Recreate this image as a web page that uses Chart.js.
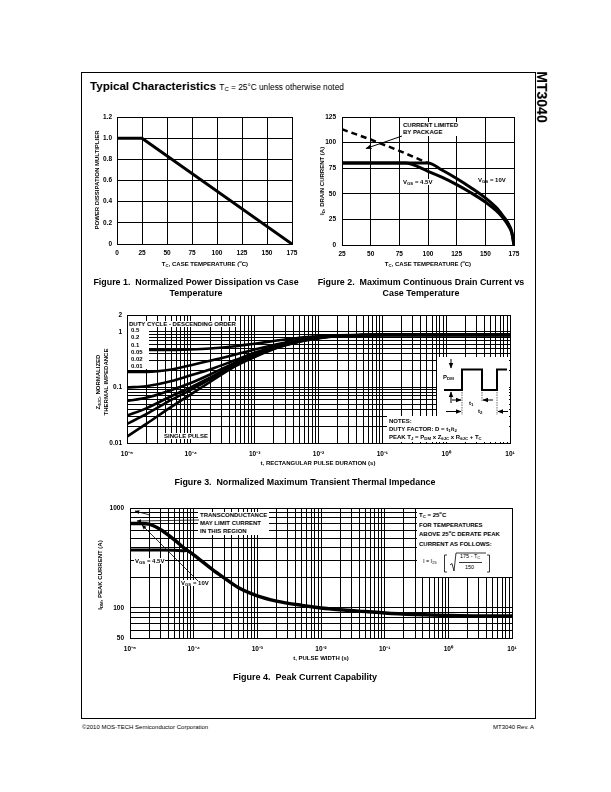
<!DOCTYPE html>
<html><head><meta charset="utf-8">
<script src="https://cdn.jsdelivr.net/npm/chart.js@4"></script>
<style>
body{margin:0;background:#fff;}
#page{position:relative;width:611px;height:792px;overflow:hidden;font-family:"Liberation Sans",Arial,sans-serif;color:#000;background:#fff;filter:grayscale(100%);}
.a{position:absolute;white-space:nowrap;line-height:1;}
.c{transform:translate(-50%,-50%);}
.rot{transform:translate(-50%,-50%) rotate(-90deg);}
canvas{position:absolute;}
.t6{font-size:6px;font-weight:bold;}
.cap{font-size:8.9px;font-weight:bold;text-align:center;line-height:10.5px;}
.wb{background:#fff;}
sub{font-size:0.72em;vertical-align:-0.25em;line-height:0;}
svg{position:absolute;left:0;top:0;overflow:visible;}
</style></head><body><div id="page">
<!-- frame -->
<div class="a" style="left:81px;top:72px;width:453px;height:645px;border:1.2px solid #000;"></div>
<div class="a" style="left:90px;top:80px;font-size:11.6px;font-weight:bold;">Typical Characteristics <span style="font-size:8.3px;font-weight:normal;">T<sub>C</sub> = 25°C unless otherwise noted</span></div>
<div class="a" style="left:542px;top:97px;font-size:14px;font-weight:bold;transform:translate(-50%,-50%) rotate(90deg);">MT3040</div>

<canvas id="c1"></canvas>
<canvas id="c2"></canvas>
<canvas id="c3"></canvas>
<canvas id="c4"></canvas>

<!-- Fig 1 texts -->
<div class="a t6 c" style="left:205px;top:264px;">T<sub>C</sub>, CASE TEMPERATURE (<sup style="font-size:0.7em;line-height:0;">o</sup>C)</div>
<div class="a t6 rot" style="left:97px;top:180px;">POWER DISSIPATION MULTIPLIER</div>
<div class="a cap c" style="left:196px;top:287px;">Figure 1.&nbsp; Normalized Power Dissipation vs Case<br>Temperature</div>

<!-- Fig 2 texts -->
<div class="a t6 c" style="left:428px;top:264px;">T<sub>C</sub>, CASE TEMPERATURE (<sup style="font-size:0.7em;line-height:0;">o</sup>C)</div>
<div class="a t6 rot" style="left:322px;top:181px;">I<sub>D</sub>, DRAIN CURRENT (A)</div>
<div class="a t6 wb" style="left:402px;top:122px;line-height:6.8px;padding:0 1px;">CURRENT LIMITED<br>BY PACKAGE</div>
<div class="a t6 wb" style="left:402px;top:179px;padding:0 1px;">V<sub>GS</sub> = 4.5V</div>
<div class="a t6" style="left:478px;top:177px;">V<sub>GS</sub> = 10V</div>
<div class="a cap c" style="left:421px;top:287px;">Figure 2.&nbsp; Maximum Continuous Drain Current vs<br>Case Temperature</div>

<!-- Fig 3 texts -->
<div class="a t6 c" style="left:318px;top:463px;">t, RECTANGULAR PULSE DURATION (s)</div>
<div class="a t6 rot" style="left:102px;top:382px;text-align:center;line-height:7.5px;">Z<sub>θJC</sub>, NORMALIZED<br>THERMAL IMPEDANCE</div>
<div class="a t6 wb" style="left:128px;top:321px;padding:0 1px;">DUTY CYCLE - DESCENDING ORDER</div>
<div class="a t6 wb" style="left:128px;top:327px;width:18px;height:42px;line-height:7.3px;padding-left:3px;">0.5<br>0.2<br>0.1<br>0.05<br>0.02<br>0.01</div>
<div class="a t6 wb" style="left:162px;top:433px;padding:0 2px;">SINGLE PULSE</div>
<div class="a wb" style="left:437px;top:357px;width:72px;height:60px;"></div>
<div class="a wb" style="left:387px;top:416px;width:122px;height:26px;"></div>
<div class="a t6" style="left:389px;top:417px;line-height:8px;">NOTES:<br>DUTY FACTOR: D = t<sub>1</sub>/t<sub>2</sub><br>PEAK T<sub>J</sub> = P<sub>DM</sub> x Z<sub>θJC</sub> x R<sub>θJC</sub> + T<sub>C</sub></div>
<div class="a t6" style="left:443px;top:374px;">P<sub>DM</sub></div>
<div class="a t6" style="left:469px;top:400px;">t<sub>1</sub></div>
<div class="a t6" style="left:478px;top:408px;">t<sub>2</sub></div>
<div class="a cap c" style="left:305px;top:482px;">Figure 3.&nbsp; Normalized Maximum Transient Thermal Impedance</div>

<!-- Fig 4 texts -->
<div class="a t6 c" style="left:321px;top:658px;">t, PULSE WIDTH (s)</div>
<div class="a t6 rot" style="left:100px;top:575px;">I<sub>DM</sub>, PEAK CURRENT (A)</div>
<div class="a t6 wb" style="left:198px;top:512px;line-height:7.8px;padding:0 2px;">TRANSCONDUCTANCE<br>MAY LIMIT CURRENT<br>IN THIS REGION</div>
<div class="a t6 wb" style="left:134px;top:558px;padding:0 1px;">V<sub>GS</sub> = 4.5V</div>
<div class="a t6 wb" style="left:180px;top:580px;padding:0 1px;">V<sub>GS</sub> = 10V</div>
<div class="a wb" style="left:417px;top:509px;width:95px;height:68px;"></div>
<div class="a t6" style="left:419px;top:511px;line-height:9.6px;">T<sub>C</sub> = 25<sup style="font-size:0.7em;line-height:0;">o</sup>C<br>FOR TEMPERATURES<br>ABOVE 25<sup style="font-size:0.7em;line-height:0;">o</sup>C DERATE PEAK<br>CURRENT AS FOLLOWS:</div>
<div class="a" style="left:423px;top:559px;font-size:5.5px;">I = I<sub>25</sub></div>
<div class="a" style="left:460px;top:554px;font-size:5.5px;">175 - T<sub>C</sub></div>
<div class="a" style="left:465px;top:565px;font-size:5.5px;">150</div>
<div class="a cap c" style="left:305px;top:677px;font-size:9px;">Figure 4.&nbsp; Peak Current Capability</div>

<div class="a" style="left:82px;top:723.5px;font-size:6px;">©2010 MOS-TECH Semiconductor Corporation</div>
<div class="a" style="left:534px;top:723.5px;font-size:6px;transform:translateX(-100%);">MT3040 Rev. A</div>

<svg width="611" height="792" viewBox="0 0 611 792">
 <defs>
  <marker id="ah" viewBox="0 0 10 10" refX="9" refY="5" markerWidth="6" markerHeight="6" orient="auto-start-reverse"><path d="M0,1 L10,5 L0,9 z" fill="#000"/></marker>
 </defs>
 <!-- fig2 arrow -->
 <line x1="402" y1="136" x2="366" y2="148.5" stroke="#000" stroke-width="1" marker-end="url(#ah)"/>
 <!-- fig3 waveform -->
 <g stroke="#000" fill="none">
  <line x1="451" y1="359" x2="451" y2="368" stroke-width="1" marker-end="url(#ah)"/>
  <polyline points="444,390 462,390 462,369.5 482,369.5 482,390 497,390 497,369.5 507,369.5" stroke-width="2"/>
  <line x1="451" y1="403" x2="451" y2="392" stroke-width="1" marker-end="url(#ah)"/>
  <line x1="452" y1="400" x2="461" y2="400" stroke-width="1" marker-end="url(#ah)"/>
  <line x1="493" y1="400" x2="483" y2="400" stroke-width="1" marker-end="url(#ah)"/>
  <line x1="446" y1="411.5" x2="461" y2="411.5" stroke-width="1" marker-end="url(#ah)"/>
  <line x1="508" y1="411.5" x2="498" y2="411.5" stroke-width="1" marker-end="url(#ah)"/>
  <line x1="462" y1="392" x2="462" y2="415" stroke-width="0.6" stroke-dasharray="1.5,1"/>
  <line x1="482" y1="392" x2="482" y2="402" stroke-width="0.6" stroke-dasharray="1.5,1"/>
  <line x1="497" y1="392" x2="497" y2="415" stroke-width="0.6" stroke-dasharray="1.5,1"/>
 </g>
 <!-- fig4 arrows -->
 <g stroke="#000" fill="none" stroke-width="0.8">
  <line x1="199" y1="520" x2="137" y2="521" marker-end="url(#ah)"/>
  <line x1="198" y1="581" x2="142" y2="525" marker-end="url(#ah)"/>
  <line x1="150" y1="515" x2="135" y2="511" marker-end="url(#ah)"/>
 </g>
 <!-- fig4 formula -->
 <g stroke="#000" fill="none" stroke-width="0.8">
  <polyline points="447,555 444.5,555 444.5,572 447,572"/>
  <polyline points="487,555 489.5,555 489.5,572 487,572"/>
  <polyline points="450,565 452,563.5 454,571 456,553 486,553"/>
  <line x1="459" y1="562.5" x2="482" y2="562.5"/>
 </g>
</svg>
</div>
<script>
// ---------- DATA ----------
// Figure 1
const fig1Temp = [0, 25, 175];
const fig1Mult = [1.0, 1.0, 0];
const fig1XTicks = [0, 25, 50, 75, 100, 125, 150, 175];
const fig1YTicks = [0, 0.2, 0.4, 0.6, 0.8, 1.0, 1.2];
// Figure 2
const fig2PkgTemp = [25, 50, 75, 100];
const fig2PkgCurrent = [113, 103, 92, 80];
const fig2Temp10 = [25, 100, 112.5, 125, 137.5, 150, 160, 165, 170, 173, 175];
const fig2Cur10 = [80, 80, 73, 65, 56, 46, 36, 29, 21, 13, 0];
const fig2Temp45 = [25, 80, 100, 112.5, 125, 137.5, 150, 160, 165, 170, 173, 175];
const fig2Cur45 = [80, 80, 72, 66, 59, 51, 42, 33, 27, 19, 12, 0];
const fig2XTicks = [25, 50, 75, 100, 125, 150, 175];
const fig2YTicks = [0, 25, 50, 75, 100, 125];
// Figure 3
const fig3Time = [1e-5, 2e-5, 5e-5, 1e-4, 2e-4, 5e-4, 1e-3, 2e-3, 5e-3, 1e-2, 2e-2, 5e-2, 1e-1, 1, 10];
const fig3Duty50 = [0.47, 0.47, 0.47, 0.48, 0.50, 0.55, 0.61, 0.68, 0.78, 0.83, 0.86, 0.88, 0.88, 0.88, 0.88];
const fig3Duty20 = [0.19, 0.19, 0.21, 0.25, 0.30, 0.39, 0.48, 0.58, 0.72, 0.80, 0.85, 0.87, 0.88, 0.88, 0.88];
const fig3Duty10 = [0.10, 0.105, 0.13, 0.165, 0.21, 0.31, 0.42, 0.54, 0.69, 0.79, 0.85, 0.87, 0.88, 0.88, 0.88];
const fig3Duty05 = [0.057, 0.065, 0.09, 0.12, 0.17, 0.28, 0.39, 0.52, 0.68, 0.78, 0.84, 0.87, 0.88, 0.88, 0.88];
const fig3Duty02 = [0.031, 0.042, 0.07, 0.10, 0.15, 0.26, 0.37, 0.51, 0.67, 0.77, 0.84, 0.87, 0.88, 0.88, 0.88];
const fig3Duty01 = [0.022, 0.033, 0.06, 0.09, 0.14, 0.25, 0.36, 0.50, 0.67, 0.77, 0.84, 0.87, 0.88, 0.88, 0.88];
const fig3Single = [0.013, 0.022, 0.045, 0.075, 0.125, 0.24, 0.35, 0.49, 0.66, 0.76, 0.84, 0.87, 0.88, 0.88, 0.88];
const fig3YTicks = [0.01,0.02,0.03,0.04,0.05,0.06,0.07,0.08,0.09,0.1,0.2,0.3,0.4,0.5,0.6,0.7,0.8,0.9,1,2];
const fig3YLabels = [0.01, 0.1, 1, 2];
// Figure 4
const fig4Time10 = [1e-5, 1.5e-5, 2e-5, 3e-5, 5e-5, 7e-5, 1e-4, 2e-4, 3e-4, 5e-4, 1e-3, 2e-3, 5e-3, 1e-2, 2e-2, 5e-2, 1e-1, 3e-1, 1, 3, 10];
const fig4Cur10 = [700, 700, 690, 610, 480, 400, 340, 240, 200, 160, 132, 117, 106, 100, 96, 92, 89, 86, 84, 83, 83];
const fig4Time45 = [1e-5, 3e-5, 5e-5, 7e-5, 8e-5];
const fig4Cur45 = [380, 380, 378, 374, 378];
const fig4YTicks = [50,60,70,80,90,100,200,300,400,500,600,700,800,900,1000];
const fig4YLabels = [50, 100, 1000];
// shared log time ticks 1e-5 .. 1e1
const logTimeTicks = [];
for (let e = -5; e <= 0; e++) for (let m = 1; m <= 9; m++) logTimeTicks.push(Number((m * Math.pow(10, e)).toPrecision(3)));
logTimeTicks.push(10);
const decadeLabels = {'-5':'10⁻⁵','-4':'10⁻⁴','-3':'10⁻³','-2':'10⁻²','-1':'10⁻¹','0':'10⁰','1':'10¹'};

// ---------- HELPERS ----------
const FONT = '"Liberation Sans", Arial, sans-serif';
const PAD = {l: 20, t: 12, r: 14, b: 4};
function pts(xs, ys){ return xs.map((x,i)=>({x, y: ys[i]})); }
function isDecade(v){ const l = Math.log10(v); return Math.abs(l - Math.round(l)) < 1e-9; }
function axis(type, min, max, tickVals, labelFn, pos, fit, pad){
  return {
    type, min, max, position: pos,
    afterBuildTicks: s => { s.ticks = tickVals.map(v => ({value: v})); },
    afterFit: s => { if (pos === 'left') s.width = fit; else s.height = fit; },
    grid: {color: '#000', lineWidth: 1, drawTicks: false},
    border: {display: true, color: '#000', width: 1},
    ticks: {autoSkip: false, maxRotation: 0, minRotation: 0, padding: pad, color: '#000',
      font: {family: FONT, size: 6.5, weight: 'bold'},
      callback: (v) => labelFn(v)}
  };
}
function ds(data, w, dash, tension){
  return {data, borderColor: '#000', borderWidth: w, borderDash: dash || [], pointRadius: 0, fill: false,
    tension: tension || 0, cubicInterpolationMode: tension ? 'monotone' : 'default', borderCapStyle: 'butt'};
}
function makeChart(id, g, yW, xH, datasets, xAxis, yAxis){
  const cv = document.getElementById(id);
  const w = PAD.l + yW + (g.R - g.L) + PAD.r, h = PAD.t + (g.B - g.T) + xH + PAD.b;
  cv.width = w; cv.height = h;
  cv.style.left = (g.L - PAD.l - yW) + 'px'; cv.style.top = (g.T - PAD.t) + 'px';
  cv.style.width = w + 'px'; cv.style.height = h + 'px';
  return new Chart(cv, {
    type: 'line', data: {datasets},
    options: {responsive: false, animation: false, devicePixelRatio: 1, events: [],
      layout: {padding: {left: PAD.l, top: PAD.t, right: PAD.r, bottom: PAD.b}},
      plugins: {legend: {display: false}, tooltip: {enabled: false}},
      scales: {x: xAxis, y: yAxis}}
  });
}
const fmt1 = v => (v === 0 ? '0' : v.toFixed(1));

// ---------- FIGURE 1 ----------
makeChart('c1', {L:117, R:292, T:117, B:244}, 30, 16,
  [ds(pts(fig1Temp, fig1Mult), 3)],
  axis('linear', 0, 175, fig1XTicks, v => String(v), 'bottom', 16, 5),
  axis('linear', 0, 1.2, fig1YTicks, v => fmt1(v), 'left', 30, 5));

// ---------- FIGURE 2 ----------
makeChart('c2', {L:342, R:514, T:117, B:245}, 30, 16,
  [ds(pts(fig2PkgTemp, fig2PkgCurrent), 2.5, [6, 4]),
   ds(pts(fig2Temp10, fig2Cur10), 3, null, 0.3),
   ds(pts(fig2Temp45, fig2Cur45), 3, null, 0.3)],
  axis('linear', 25, 175, fig2XTicks, v => String(v), 'bottom', 16, 5),
  axis('linear', 0, 125, fig2YTicks, v => String(v), 'left', 30, 6));

// ---------- FIGURE 3 ----------
makeChart('c3', {L:127, R:510, T:315, B:443}, 30, 18,
  [fig3Duty50, fig3Duty20, fig3Duty10, fig3Duty05, fig3Duty02, fig3Duty01, fig3Single]
    .map(arr => ds(pts(fig3Time, arr), 2.6, null, 0.4)),
  axis('logarithmic', 1e-5, 10, logTimeTicks, v => isDecade(v) ? decadeLabels[String(Math.round(Math.log10(v)))] : '', 'bottom', 18, 7),
  axis('logarithmic', 0.01, 2, fig3YTicks, v => fig3YLabels.includes(v) ? String(v) : '', 'left', 30, 5));

// ---------- FIGURE 4 ----------
makeChart('c4', {L:130, R:512, T:508, B:638}, 30, 18,
  [ds(pts(fig4Time10, fig4Cur10), 3.5, null, 0.4),
   ds(pts(fig4Time45, fig4Cur45), 3, null, 0.3)],
  axis('logarithmic', 1e-5, 10, logTimeTicks, v => isDecade(v) ? decadeLabels[String(Math.round(Math.log10(v)))] : '', 'bottom', 18, 7),
  axis('logarithmic', 50, 1000, fig4YTicks, v => fig4YLabels.includes(v) ? String(v) : '', 'left', 30, 6));
</script>
</body></html>
